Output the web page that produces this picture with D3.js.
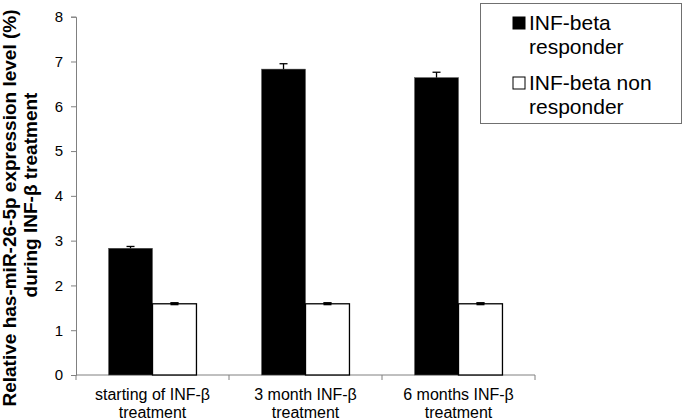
<!DOCTYPE html>
<html><head><meta charset="utf-8">
<script src="https://cdn.jsdelivr.net/npm/d3@7"></script>
<style>body{margin:0;background:#fff}svg{display:block}text{font-family:"Liberation Sans",Arial,sans-serif;fill:#000}</style>
</head><body><svg id="c" width="685" height="420"></svg>
<script>
const categories = [["starting of INF-β","treatment"],["3 month INF-β","treatment"],["6 months INF-β","treatment"]];
const seriesNames = ["INF-beta responder","INF-beta non responder"];
const responder = [2.83, 6.83, 6.64];
const responderErr = [0.04, 0.12, 0.12];
const nonResponder = [1.59, 1.59, 1.59];
const nonResponderErr = [0.02, 0.02, 0.02];
const yTicks = [0,1,2,3,4,5,6,7,8];

const svg = d3.select("#c");
const L = 76, R = 535, T = 16.7, B = 375;
const x0 = d3.scaleBand().domain(d3.range(categories.length)).range([L, R]).padding(0);
const x1 = d3.scaleBand().domain([0,1]).range([0, x0.bandwidth()]).paddingInner(0).paddingOuter(0.74);
const y = d3.scaleLinear().domain([0, 8]).range([B, T]);

// Y axis
const ya = svg.append("g").attr("transform", `translate(${L},0)`)
  .call(d3.axisLeft(y).tickValues(yTicks).tickSize(5).tickPadding(8).tickFormat(d3.format("d")));
ya.select(".domain").attr("stroke", "#808080");
ya.selectAll(".tick line").attr("stroke", "#808080");
ya.selectAll(".tick text").style("font-size", "15px").style("font-family", '"Liberation Sans",Arial,sans-serif').attr("fill", "#000");

// X axis line with boundary ticks
svg.append("line").attr("x1", L).attr("x2", R).attr("y1", B).attr("y2", B).attr("stroke", "#808080");
const bounds = d3.range(categories.length + 1).map(i => i < categories.length ? x0(i) : x0(i-1) + x0.bandwidth());
svg.selectAll(".xt").data(bounds).enter().append("line")
  .attr("x1", d => d).attr("x2", d => d).attr("y1", B).attr("y2", B + 5).attr("stroke", "#808080");

const data = [
  {vals: responder, errs: responderErr, fill: "#000"},
  {vals: nonResponder, errs: nonResponderErr, fill: "#fff"}
];
data.forEach((s, si) => {
  const g = svg.append("g");
  g.selectAll("rect").data(s.vals).enter().append("rect")
    .attr("x", (d, i) => x0(i) + x1(si))
    .attr("width", x1.bandwidth())
    .attr("y", d => y(d))
    .attr("height", d => B - y(d))
    .attr("fill", s.fill)
    .attr("stroke", si === 0 ? "#555" : "#000")
    .attr("stroke-width", si === 0 ? 0.5 : 1.3);
  s.vals.forEach((v, i) => {
    const cx = x0(i) + x1(si) + x1.bandwidth() / 2;
    g.append("line").attr("x1", cx).attr("x2", cx).attr("y1", y(v)).attr("y2", y(v + s.errs[i])).attr("stroke", "#000").attr("stroke-width", 1.3);
    g.append("line").attr("x1", cx - 4).attr("x2", cx + 4).attr("y1", y(v + s.errs[i])).attr("y2", y(v + s.errs[i])).attr("stroke", "#000").attr("stroke-width", 1.3);
    if (si === 1) {
      g.append("rect").attr("x", cx - 4).attr("y", y(v) - 1.5).attr("width", 8).attr("height", 3).attr("fill", "#000");
    }
  });
});

// X labels
categories.forEach((c, i) => {
  const t = svg.append("text").attr("x", x0(i) + x0.bandwidth() / 2).attr("y", 400)
    .attr("text-anchor", "middle").style("font-size", "16px");
  c.forEach((line, li) => t.append("tspan").attr("x", x0(i) + x0.bandwidth() / 2).attr("y", 400 + li * 18).text(line));
});

// Y title
const yt = svg.append("text").attr("transform", "translate(0,208) rotate(-90)")
  .attr("text-anchor", "middle").style("font-size", "19px").style("font-weight", "bold");
yt.append("tspan").attr("x", 0).attr("y", 16).text("Relative has-miR-26-5p expression level (%)");
yt.append("tspan").attr("x", 13).attr("y", 37).text("during INF-β treatment");

// Legend
const lg = svg.append("g");
lg.append("rect").attr("x", 480.5).attr("y", 3.5).attr("width", 201).attr("height", 120).attr("fill", "#fff").attr("stroke", "#707070").attr("stroke-width", 1);
const legendLines = [["INF-beta","responder"],["INF-beta non","responder"]];
const legendBase = [30, 90];
legendLines.forEach((ln, i) => {
  lg.append("rect").attr("x", 513).attr("y", legendBase[i] - 13).attr("width", 12).attr("height", 12)
    .attr("fill", i === 0 ? "#000" : "#fff").attr("stroke", "#000").attr("stroke-width", 1);
  lg.append("text").attr("x", 529).attr("y", legendBase[i]).style("font-size", "21px").text(ln[0]);
  lg.append("text").attr("x", 529).attr("y", legendBase[i] + 24).style("font-size", "21px").text(ln[1]);
});
</script></body></html>
